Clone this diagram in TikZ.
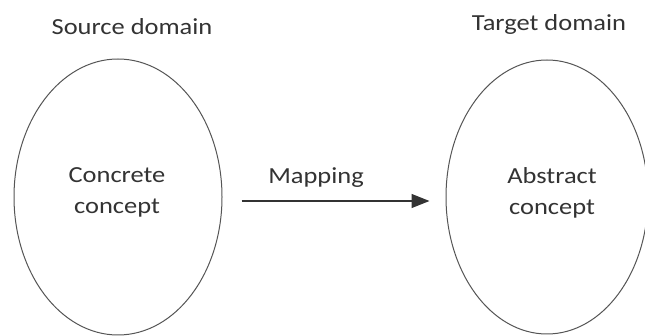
\documentclass[tikz,border=0pt]{standalone}
\usepackage{fontspec}
\setmainfont[FakeStretch=1.15]{Carlito}
\usetikzlibrary{shapes.geometric,arrows.meta}
\definecolor{ink}{HTML}{333333}
\definecolor{edge}{HTML}{555555}
\tikzset{
  domainbox/.style={draw=edge, line width=1pt, ellipse, inner sep=0pt},
  lbl/.style={text=ink, font=\fontsize{23}{31}\selectfont, align=center, inner sep=0pt},
  maparrow/.style={draw=ink, line width=1.3pt, -{Triangle[length=18pt,width=14pt]}}
}
\begin{document}
\begin{tikzpicture}[x=1pt,y=-1pt]
\useasboundingbox[fill=white] (0,0) rectangle (645,336);
\node[domainbox, minimum width=208pt, minimum height=276pt] (L) at (118,197) {};
\node[domainbox, minimum width=202pt, minimum height=274pt] (R) at (547,197) {};
\node[lbl] (src) at (132,27) {Source domain};
\node[lbl] (tgt) at (549,24) {Target domain};
\node[lbl] (cc) at (117,192) {Concrete\\concept};
\node[lbl] (ac) at (552,193) {Abstract\\concept};
\draw[maparrow, shorten <=19pt, shorten >=16pt] ([yshift=-4pt]L.east) -- node[lbl, above=13pt, xshift=-18pt] (map) {Mapping} ([yshift=-4pt]R.west);
\end{tikzpicture}
\end{document}
